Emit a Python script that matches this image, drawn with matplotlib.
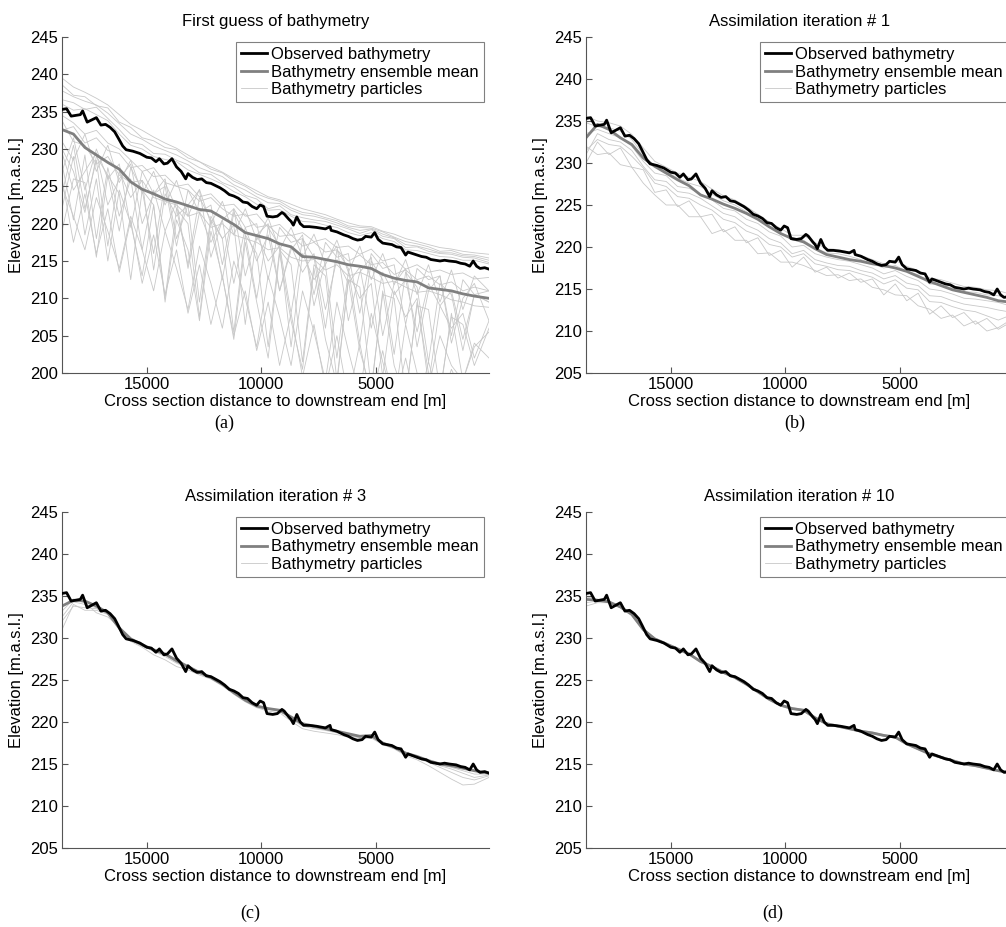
import numpy as np
import matplotlib
matplotlib.use('Agg')
import matplotlib.pyplot as plt

plt.rcParams['font.family'] = ['Liberation Sans', 'DejaVu Sans']
plt.rcParams['font.size'] = 12

# Observed bathymetry (distance to downstream end [m], elevation [m.a.s.l.])
obs_x = [18700, 18500, 18300, 18100, 17900, 17800, 17600, 17400, 17200, 17000,
         16800, 16600, 16400, 16250, 16050, 15900, 15600, 15300, 15000, 14800,
         14600, 14450, 14250, 14100, 13900, 13700, 13500, 13300, 13200, 13000,
         12800, 12600, 12400, 12200, 12000, 11800, 11600, 11400, 11200, 11000,
         10800, 10600, 10400, 10200, 10050, 9900, 9750, 9500, 9300, 9100,
         9000, 8800, 8700, 8600, 8450, 8300, 8150, 7900, 7600, 7400,
         7200, 7000, 6950, 6700, 6400, 6200, 6000, 5800, 5600, 5450,
         5200, 5050, 4900, 4700, 4500, 4300, 4100, 3900, 3700, 3600,
         3400, 3200, 3000, 2800, 2600, 2400, 2200, 2000, 1800, 1500,
         1300, 1100, 900, 750, 600, 450, 250, 50]
obs_y = [235.3, 235.4, 234.4, 234.5, 234.6, 235.1, 233.6, 233.9, 234.2, 233.2,
         233.3, 232.9, 232.3, 231.5, 230.4, 229.9, 229.7, 229.4, 228.9, 228.8,
         228.3, 228.7, 228.0, 228.1, 228.7, 227.6, 227.0, 226.0, 226.7, 226.2,
         225.9, 226.0, 225.5, 225.4, 225.1, 224.8, 224.4, 223.9, 223.7, 223.4,
         222.9, 222.8, 222.3, 222.0, 222.5, 222.3, 221.0, 220.9, 221.0, 221.5,
         221.3, 220.6, 220.3, 219.8, 220.9, 220.0, 219.6, 219.6, 219.5, 219.4,
         219.3, 219.6, 219.1, 218.9, 218.5, 218.3, 218.0, 217.8, 217.9, 218.3,
         218.2, 218.8, 217.9, 217.4, 217.3, 217.2, 216.9, 216.8, 215.8, 216.2,
         216.0, 215.8, 215.6, 215.5, 215.2, 215.1, 215.0, 215.1, 215.0, 214.9,
         214.7, 214.6, 214.3, 215.0, 214.3, 214.0, 214.1, 213.9]

# cross sections used for particles and ensemble means
grid_x = [18700, 18200, 17700, 17200, 16700, 16200, 15700, 15200, 14700, 14200,
          13700, 13200, 12700, 12200, 11700, 11200, 10700, 10200, 9700, 9200,
          8700, 8200, 7700, 7200, 6700, 6200, 5700, 5200, 4700, 4200,
          3700, 3200, 2700, 2200, 1700, 1200, 700, 60]

# (a) first guess
mean_a = [232.6, 232.0, 230.2, 229.2, 228.2, 227.3, 225.6, 224.6, 224.0, 223.3,
          222.9, 222.4, 221.9, 221.7, 220.8, 219.9, 218.8, 218.4, 218.0, 217.3,
          216.9, 215.6, 215.5, 215.2, 214.9, 214.5, 214.3, 214.0, 213.2, 212.7,
          212.4, 212.2, 211.4, 211.2, 211.0, 210.6, 210.3, 210.0]
particles_a = [
    [239.5, 238.3, 237.6, 236.8, 235.9, 234.6, 233.3, 232.5, 231.6, 230.8,
     230.1, 229.2, 228.3, 227.6, 226.9, 226.0, 225.2, 224.4, 223.6, 223.2,
     222.6, 222.0, 221.6, 221.2, 220.6, 220.1, 219.7, 219.6, 219.0, 218.6,
     218.0, 217.6, 217.2, 216.8, 216.6, 216.3, 216.1, 215.9],
    [237.8, 237.0, 236.4, 235.9, 234.8, 233.4, 232.0, 231.3, 230.4, 229.8,
     229.2, 228.4, 227.5, 226.9, 226.3, 225.2, 224.5, 223.6, 222.8, 222.7,
     221.8, 221.2, 221.0, 220.6, 220.1, 219.5, 219.1, 219.3, 218.6, 218.1,
     217.2, 217.0, 216.6, 216.1, 216.1, 215.7, 215.6, 215.1],
    [236.6, 236.2, 235.3, 235.6, 234.1, 232.6, 230.9, 230.6, 229.4, 229.3,
     228.5, 227.9, 226.8, 226.6, 225.5, 224.9, 223.8, 223.3, 222.0, 222.4,
     221.2, 220.8, 220.5, 220.3, 219.8, 219.3, 218.7, 219.2, 218.3, 218.0,
     216.8, 216.9, 216.3, 216.0, 215.9, 215.5, 215.4, 214.8],
    [238.6, 237.2, 237.0, 235.8, 235.5, 233.6, 232.9, 231.5, 231.1, 230.2,
     229.9, 228.8, 228.3, 227.3, 226.8, 225.7, 225.0, 224.0, 223.4, 223.0,
     222.1, 221.5, 221.3, 220.8, 220.4, 219.7, 219.5, 219.4, 218.9, 218.2,
     217.6, 217.3, 216.9, 216.3, 216.4, 215.9, 215.8, 215.4],
    [236.0, 235.2, 235.4, 234.6, 233.8, 232.0, 230.5, 230.0, 229.0, 228.6,
     228.3, 227.2, 226.6, 226.0, 225.3, 224.3, 223.6, 222.6, 221.8, 221.9,
     221.0, 220.3, 220.2, 219.8, 219.5, 218.8, 218.4, 218.8, 218.0, 217.6,
     216.5, 216.4, 216.0, 215.6, 215.5, 215.1, 215.1, 214.6],
    [232.5, 233.0, 230.8, 231.5, 229.8, 229.4, 227.5, 227.8, 226.3, 226.5,
     225.0, 225.3, 223.6, 224.0, 222.4, 222.6, 221.0, 221.3, 219.5, 219.9,
     218.4, 218.8, 217.6, 218.0, 216.8, 217.0, 215.9, 216.6, 215.0, 215.4,
     213.9, 214.5, 213.5, 213.8, 213.2, 213.4, 212.6, 212.8],
    [234.5, 233.5, 232.0, 232.5, 230.8, 230.0, 228.5, 227.0, 227.5, 225.5,
     225.0, 224.5, 223.0, 223.5, 222.0, 221.0, 221.3, 219.5, 219.8, 218.3,
     218.5, 217.0, 217.5, 216.2, 216.5, 215.0, 215.8, 214.5, 214.8, 213.2,
     213.8, 212.5, 213.0, 211.8, 212.2, 211.0, 211.5, 211.0],
    [231.0, 228.5, 232.0, 227.0, 230.5, 225.5, 228.5, 224.0, 227.0, 222.5,
     225.8, 221.0, 224.6, 220.0, 223.0, 218.5, 222.0, 217.8, 220.8, 216.5,
     219.5, 215.5, 218.6, 214.5, 217.8, 213.5, 217.0, 212.5, 216.0, 211.8,
     215.2, 210.5, 214.5, 209.5, 213.8, 208.5, 213.0, 211.0],
    [228.0, 220.5, 229.2, 218.0, 227.5, 221.0, 226.0, 216.5, 224.5, 219.0,
     223.0, 214.0, 221.5, 217.5, 220.5, 212.0, 219.5, 215.0, 218.5, 211.0,
     217.0, 213.5, 216.0, 208.5, 215.2, 212.0, 214.2, 206.0, 213.5, 210.5,
     212.5, 205.5, 212.0, 209.0, 211.0, 204.5, 210.5, 209.5],
    [224.0, 230.5, 222.0, 228.5, 217.0, 227.0, 223.5, 225.8, 213.8, 224.0,
     221.0, 222.5, 209.5, 221.0, 218.0, 219.8, 206.5, 218.5, 215.0, 217.0,
     203.5, 216.0, 212.5, 214.5, 202.0, 213.5, 210.0, 212.0, 199.5, 211.0,
     207.5, 210.0, 198.5, 209.0, 206.0, 208.0, 202.0, 207.0],
    [219.0, 226.0, 225.5, 215.5, 226.5, 224.0, 212.5, 224.5, 222.5, 210.0,
     222.0, 220.0, 207.5, 220.5, 218.0, 205.5, 218.5, 216.0, 203.5, 216.5,
     214.5, 201.5, 214.5, 213.0, 199.0, 212.5, 211.5, 198.0, 210.5, 210.0,
     197.0, 209.0, 208.5, 197.5, 207.5, 206.5, 201.0, 206.0],
    [226.0, 217.5, 224.0, 216.0, 222.0, 213.5, 220.5, 212.0, 218.5, 210.5,
     216.5, 208.0, 214.5, 206.5, 213.0, 205.0, 211.0, 203.0, 209.5, 201.0,
     208.0, 199.5, 206.5, 198.0, 205.0, 196.5, 204.0, 196.0, 203.0, 195.5,
     202.0, 195.0, 201.5, 196.0, 200.5, 197.0, 199.5, 198.5],
    [230.0, 227.0, 221.5, 229.0, 226.5, 219.0, 227.5, 224.5, 216.0, 225.5,
     222.0, 214.5, 223.5, 220.5, 212.5, 221.5, 218.5, 210.0, 219.5, 217.0,
     208.0, 218.0, 215.5, 206.0, 216.5, 214.0, 204.0, 215.0, 212.5, 202.5,
     213.5, 211.5, 201.5, 212.0, 210.5, 203.0, 210.5, 209.5],
    [233.8, 231.0, 230.5, 228.0, 229.0, 226.5, 225.5, 225.8, 223.5, 223.0,
     222.5, 221.0, 221.5, 219.5, 220.0, 218.5, 218.0, 217.5, 216.5, 216.8,
     215.5, 215.0, 215.2, 213.8, 214.5, 213.0, 213.5, 212.8, 212.0, 212.3,
     211.5, 210.8, 211.0, 210.5, 209.8, 209.5, 209.0, 208.8],
    [227.0, 231.5, 224.5, 230.0, 226.0, 228.0, 219.5, 227.0, 224.0, 225.0,
     217.0, 224.5, 221.5, 222.5, 214.5, 222.0, 219.5, 220.0, 212.5, 219.5,
     217.5, 218.0, 210.5, 217.5, 215.5, 216.0, 208.0, 216.0, 214.0, 214.5,
     206.5, 214.0, 212.5, 213.0, 205.0, 212.5, 210.5, 211.0],
    [222.0, 229.0, 218.5, 226.0, 215.0, 224.5, 220.0, 213.0, 222.5, 209.5,
     220.5, 216.5, 207.0, 219.0, 213.0, 204.5, 217.5, 209.5, 202.0, 216.0,
     207.0, 200.5, 214.0, 204.5, 198.5, 212.5, 203.0, 197.5, 211.0, 201.0,
     196.5, 209.5, 200.0, 197.0, 208.0, 199.0, 203.5, 205.5],
    [229.5, 224.5, 227.0, 229.5, 222.5, 226.0, 228.0, 220.0, 224.0, 226.0,
     218.0, 222.5, 224.5, 215.5, 220.5, 222.0, 213.0, 218.5, 220.0, 211.0,
     216.5, 218.5, 209.0, 215.0, 217.0, 207.0, 213.5, 215.5, 205.0, 212.0,
     214.0, 203.5, 211.0, 213.0, 204.0, 210.0, 212.0, 207.0],
    [225.0, 221.0, 216.5, 223.5, 219.0, 214.0, 221.0, 216.5, 211.0, 219.0,
     214.0, 208.5, 217.0, 212.0, 206.0, 215.0, 210.0, 203.5, 213.0, 207.5,
     201.0, 211.0, 205.5, 199.0, 209.5, 203.0, 197.0, 208.0, 201.5, 196.0,
     206.5, 200.0, 198.0, 205.0, 201.0, 199.0, 204.0, 202.0],
]

# (b) iteration 1
mean_b = [233.0, 234.6, 234.0, 233.0, 232.2, 230.6, 229.6, 228.8, 228.0, 227.3,
          226.2, 225.7, 225.1, 224.6, 224.0, 223.3, 222.4, 221.6, 221.0, 220.6,
          219.8, 219.1, 218.8, 218.5, 218.3, 218.0, 217.8, 217.5, 217.1, 216.5,
          215.9, 215.4, 214.9, 214.6, 214.3, 214.0, 213.6, 213.4]
particles_b = [
    [234.8, 234.3, 234.2, 233.8, 232.8, 231.0, 229.6, 229.0, 228.2, 227.6,
     227.2, 226.3, 225.5, 225.0, 224.2, 223.3, 222.5, 221.7, 220.8, 220.8,
     219.9, 219.3, 219.2, 218.9, 218.5, 218.0, 217.5, 217.8, 217.1, 216.7,
     215.6, 215.5, 215.1, 214.7, 214.6, 214.3, 214.2, 213.7],
    [231.0, 233.5, 232.8, 232.5, 231.5, 229.6, 228.0, 227.8, 226.6, 226.4,
     225.8, 224.9, 224.0, 223.6, 222.6, 222.0, 221.0, 220.5, 219.2, 219.6,
     218.5, 218.1, 217.8, 217.7, 217.2, 216.9, 216.2, 216.6, 215.7, 215.4,
     214.2, 214.1, 213.6, 213.2, 213.0, 212.8, 212.5, 212.2],
    [230.0, 232.5, 231.0, 231.8, 229.5, 229.2, 226.5, 226.8, 224.8, 225.5,
     223.6, 223.9, 221.8, 222.4, 220.5, 221.1, 219.0, 219.6, 217.6, 218.8,
     217.0, 217.6, 216.3, 216.9, 215.8, 216.2, 214.3, 215.6, 213.6, 214.5,
     212.0, 213.0, 211.6, 212.2, 210.8, 211.5, 210.2, 211.2],
    [232.0, 231.0, 231.2, 229.8, 229.5, 227.6, 226.2, 225.0, 225.0, 223.6,
     223.6, 221.6, 222.1, 220.8, 220.8, 219.2, 219.3, 218.2, 218.2, 217.8,
     217.2, 216.6, 216.7, 216.0, 216.2, 215.2, 214.9, 214.3, 214.2, 213.0,
     212.6, 211.5, 211.9, 210.6, 211.2, 210.0, 210.4, 211.5],
    [233.5, 234.0, 233.5, 233.0, 232.0, 230.2, 228.8, 228.5, 227.2, 227.0,
     226.3, 225.6, 224.6, 224.3, 223.3, 222.8, 221.8, 221.3, 220.0, 220.2,
     219.2, 218.8, 218.5, 218.3, 217.9, 217.5, 216.8, 217.2, 216.5, 216.0,
     215.0, 214.8, 214.4, 213.9, 213.8, 213.6, 213.4, 212.9],
    [235.6, 235.0, 234.8, 234.4, 233.4, 231.8, 230.2, 229.5, 228.8, 228.3,
     227.8, 226.9, 226.1, 225.6, 224.8, 223.9, 223.0, 222.2, 221.4, 221.4,
     220.5, 219.8, 219.7, 219.4, 219.0, 218.5, 218.0, 218.4, 217.7, 217.2,
     216.3, 216.1, 215.7, 215.3, 215.2, 214.9, 214.8, 214.3],
    [231.5, 232.8, 232.2, 232.0, 230.8, 229.4, 227.6, 227.2, 226.0, 225.8,
     225.0, 224.4, 223.3, 222.9, 221.9, 221.4, 220.3, 220.0, 218.8, 219.2,
     218.0, 217.7, 217.3, 217.2, 216.8, 216.4, 215.6, 216.1, 215.1, 214.9,
     213.5, 213.4, 212.9, 212.5, 212.3, 211.8, 211.3, 212.0],
]

# (c) iteration 3
mean_c = [233.8, 234.5, 234.4, 233.8, 233.0, 231.2, 229.9, 229.2, 228.6, 228.1,
          227.3, 226.6, 225.9, 225.3, 224.5, 223.5, 222.6, 221.9, 221.6, 221.4,
          220.6, 219.8, 219.5, 219.2, 218.9, 218.6, 218.3, 218.4, 217.5, 217.0,
          216.3, 215.9, 215.4, 215.0, 214.8, 214.5, 214.2, 213.9]
particles_c = [
    [231.0, 234.0, 233.3, 233.3, 232.8, 231.0, 229.6, 228.9, 228.0, 227.4,
     226.6, 226.2, 225.6, 225.1, 224.3, 223.3, 222.4, 221.7, 221.3, 221.1,
     220.1, 219.2, 218.9, 218.7, 218.5, 218.2, 218.0, 218.1, 217.3, 216.8,
     216.0, 215.5, 214.8, 214.0, 213.2, 212.5, 212.6, 213.4],
    [232.5, 234.3, 234.0, 233.6, 232.9, 231.1, 229.8, 229.1, 228.4, 227.8,
     227.0, 226.4, 225.8, 225.2, 224.4, 223.4, 222.5, 221.8, 221.5, 221.3,
     220.4, 219.5, 219.2, 219.0, 218.7, 218.4, 218.1, 218.2, 217.4, 216.9,
     216.2, 215.7, 215.2, 214.6, 214.0, 213.4, 213.1, 213.6],
    [233.2, 234.6, 234.2, 233.0, 232.5, 231.3, 229.7, 229.0, 228.5, 228.0,
     227.1, 226.5, 225.8, 225.2, 224.4, 223.5, 222.5, 221.9, 221.6, 221.4,
     220.5, 219.6, 219.3, 219.1, 218.8, 218.5, 218.2, 218.3, 217.5, 217.0,
     216.3, 215.8, 215.3, 214.8, 214.4, 213.9, 213.4, 213.7],
    [232.0, 233.8, 233.6, 233.5, 232.9, 231.2, 229.8, 229.2, 228.6, 228.0,
     227.2, 226.6, 225.9, 225.3, 224.5, 223.5, 222.6, 221.9, 221.6, 221.4,
     220.6, 219.7, 219.4, 219.1, 218.8, 218.5, 218.2, 218.3, 217.5, 217.0,
     216.3, 215.9, 215.4, 214.9, 214.6, 214.2, 213.8, 213.8],
]

# (d) iteration 10
mean_d = [234.6, 234.5, 234.3, 233.7, 232.8, 231.0, 229.9, 229.3, 228.7, 228.1,
          227.2, 226.6, 225.9, 225.3, 224.5, 223.6, 222.7, 222.0, 221.6, 221.4,
          220.5, 219.8, 219.5, 219.2, 218.9, 218.7, 218.4, 218.2, 217.4, 216.8,
          216.2, 215.8, 215.4, 215.0, 214.8, 214.5, 214.2, 213.9]
particles_d = [
    [233.8, 234.2, 234.2, 233.6, 232.8, 231.0, 229.9, 229.3, 228.7, 228.1,
     227.2, 226.6, 225.9, 225.3, 224.5, 223.6, 222.7, 222.0, 221.6, 221.4,
     220.5, 219.8, 219.5, 219.2, 218.9, 218.7, 218.4, 218.2, 217.4, 216.8,
     216.2, 215.8, 215.4, 215.0, 214.8, 214.5, 214.2, 213.9],
    [234.2, 234.4, 234.3, 233.7, 232.9, 231.1, 230.0, 229.4, 228.8, 228.2,
     227.3, 226.7, 226.0, 225.4, 224.6, 223.7, 222.8, 222.1, 221.7, 221.5,
     220.6, 219.9, 219.6, 219.3, 219.0, 218.8, 218.5, 218.3, 217.5, 216.9,
     216.3, 215.9, 215.5, 215.1, 214.9, 214.6, 214.3, 214.0],
    [234.9, 234.6, 234.3, 233.6, 232.7, 230.9, 229.8, 229.2, 228.6, 228.0,
     227.1, 226.5, 225.8, 225.2, 224.4, 223.5, 222.6, 221.9, 221.5, 221.3,
     220.4, 219.7, 219.4, 219.1, 218.8, 218.6, 218.3, 218.1, 217.3, 216.7,
     216.1, 215.7, 215.3, 214.9, 214.7, 214.4, 214.1, 213.8],
]

titles = ['First guess of bathymetry', 'Assimilation iteration # 1',
          'Assimilation iteration # 3', 'Assimilation iteration # 10']
captions = ['(a)', '(b)', '(c)', '(d)']
ylims = [(200, 245), (205, 245), (205, 245), (205, 245)]

W, H = 1006, 927
fig = plt.figure(figsize=(W / 100, H / 100), dpi=100)

# axes boxes in pixels: left, top
boxes = [(62, 37), (586, 37), (62, 512), (586, 512)]
ax_w, ax_h = 427, 336
cap_pos = [(224, 423), (795, 423), (250, 913), (773, 913)]

panels = [(mean_a, particles_a), (mean_b, particles_b),
          (mean_c, particles_c), (mean_d, particles_d)]

axis_col = '#555555'
for i, (mean, parts) in enumerate(panels):
    l, t = boxes[i]
    ax = fig.add_axes([l / W, (H - t - ax_h) / H, ax_w / W, ax_h / H])
    for p in parts:
        ax.plot(grid_x, p, color='#c8c8c8', lw=0.6, zorder=1)
    h_part, = ax.plot([], [], color='#c8c8c8', lw=0.6)
    h_mean, = ax.plot(grid_x, mean, color='#808080', lw=2, zorder=2)
    h_obs, = ax.plot(obs_x, obs_y, color='black', lw=2, zorder=3)

    ax.set_xlim(18700, 60)
    ax.set_ylim(*ylims[i])
    ax.set_xticks([15000, 10000, 5000])
    ax.set_yticks(np.arange(ylims[i][0], 246, 5))
    for s in ['top', 'right']:
        ax.spines[s].set_visible(False)
    for s in ['left', 'bottom']:
        ax.spines[s].set_color(axis_col)
        ax.spines[s].set_linewidth(0.8)
    ax.tick_params(direction='in', length=4, width=0.8, color=axis_col,
                   labelsize=12, pad=3)
    ax.set_title(titles[i], fontsize=12, pad=8)
    ax.set_xlabel('Cross section distance to downstream end [m]', fontsize=12, labelpad=1)
    ax.set_ylabel('Elevation [m.a.s.l.]', fontsize=12, labelpad=4)
    leg = ax.legend([h_obs, h_mean, h_part],
                    ['Observed bathymetry', 'Bathymetry ensemble mean', 'Bathymetry particles'],
                    loc='upper right', fontsize=12, fancybox=False, framealpha=1,
                    edgecolor='#808080', borderaxespad=0.3, handlelength=1.6,
                    handletextpad=0.25, labelspacing=0.15, borderpad=0.3)
    leg.get_frame().set_linewidth(0.8)

    cx, cy = cap_pos[i]
    fig.text(cx / W, 1 - cy / H, captions[i], ha='center', va='center',
             fontsize=13, family=['Liberation Serif', 'DejaVu Serif'])

fig.savefig('out.png', dpi=100)
